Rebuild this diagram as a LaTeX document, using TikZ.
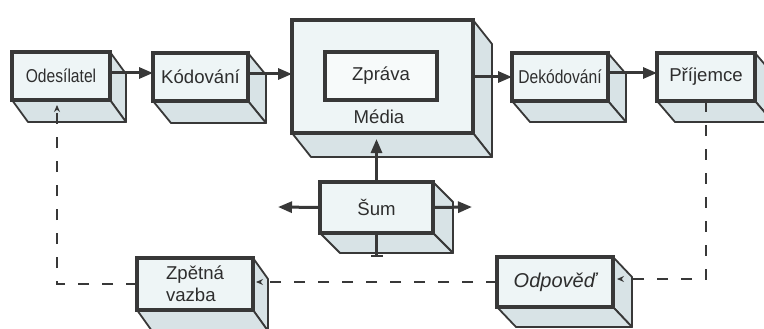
\documentclass[tikz,border=0pt]{standalone}
\usepackage{fontspec}
\setmainfont{Liberation Sans}
\newfontfamily\narrowfont{Liberation Sans}[FakeStretch=0.84]
\usetikzlibrary{arrows.meta,backgrounds,calc}
\definecolor{frontc}{HTML}{EEF5F6}
\definecolor{innerc}{HTML}{F7FAFA}
\definecolor{sidec}{HTML}{D8E3E6}
\definecolor{edgec}{HTML}{383838}
\definecolor{txtc}{HTML}{2E2E2E}
\tikzset{
  frontbox/.style={draw=edgec, fill=frontc, line width=3.5pt, inner sep=0pt, outer sep=0pt,
    text=txtc, font=\fontsize{18.6}{22}\selectfont, align=center},
  sideface/.style={fill=sidec, draw=edgec, line width=1.8pt, line join=round},
  flow/.style={draw=edgec, line width=3pt, -{Triangle[length=14pt,width=11pt]}},
  fb/.style={draw=edgec, line width=2pt, dash pattern=on 11pt off 13pt,
    -{Stealth[length=7pt,width=6pt]}},
  lbl/.style={text=txtc, font=\fontsize{18.6}{22}\selectfont, inner sep=0pt},
}
\newcommand\depthbox[3]{%
  \begin{scope}[on background layer]
    \path[sideface] (#1.north east) -- ++(#2,#3) -- ($(#1.south east)+(#2,#3)$) -- (#1.south east) -- cycle;
    \path[sideface] (#1.south west) -- ($(#1.south west)+(#2,#3)$) -- ($(#1.south east)+(#2,#3)$) -- (#1.south east) -- cycle;
  \end{scope}}
\begin{document}
\begin{tikzpicture}[x=1pt,y=-1pt]
\useasboundingbox (0,0) rectangle (764,329);
% top row
\node[frontbox, minimum width=98pt, minimum height=48pt] (Odes) at (61,76) {\narrowfont Odesílatel};
\node[frontbox, minimum width=95pt, minimum height=48pt] (Kod) at (200.5,77) {Kódování};
\node[frontbox, minimum width=181pt, minimum height=113pt] (Media) at (382.5,76.5) {};
\node[frontbox, fill=innerc, minimum width=112pt, minimum height=48pt] (Zprava) at (381,76) {Zpráva};
\node[lbl] (MediaL) at (379,117) {Média};
\node[frontbox, minimum width=96pt, minimum height=48pt] (Dekod) at (560,77) {\narrowfont Dekódování};
\node[frontbox, minimum width=98pt, minimum height=48pt] (Prij) at (706,77) {Příjemce};
% middle
\node[frontbox, minimum width=113pt, minimum height=51pt] (Sum) at (376.5,207.5) {Šum};
% bottom
\node[frontbox, minimum width=116pt, minimum height=52pt, align=left] (Zpet) at (195,284) {Zpětná\\vazba};
\node[frontbox, minimum width=116pt, minimum height=50pt, font=\fontsize{20}{24}\selectfont\itshape] (Odpo) at (555,282) {Odpověď};
\depthbox{Odes}{16}{22}
\depthbox{Kod}{18}{22}
\depthbox{Media}{19}{24}
\depthbox{Dekod}{18}{21}
\depthbox{Prij}{18}{21}
\depthbox{Sum}{20}{20}
\depthbox{Zpet}{15}{21}
\depthbox{Odpo}{19}{20}
% coordinates
\coordinate (sumtip) at (376.5,139);
\coordinate (sumgnd) at (376.5,257);
\coordinate (sumL) at (278,207);
\coordinate (sumR) at (472,207);
\coordinate (odtip) at (57,105);
\coordinate (zptip) at (256,282);
\coordinate (optip) at (617,279);
% flows
\draw[flow] ([yshift=3pt]Odes.east) -- ([yshift=3pt]Odes.east -| Kod.west);
\draw[flow] ([yshift=3pt]Kod.east) -- ([yshift=3pt]Kod.east -| Media.west);
\draw[flow] (Media.east |- Dekod.west) -- (Dekod.west);
\draw[flow] ([yshift=4pt]Dekod.east) -- ([yshift=4pt]Dekod.east -| Prij.west);
\draw[flow] (Sum.north) -- (sumtip);
\draw[flow] (Sum.west) -- (sumL);
\draw[flow] (Sum.east) -- (sumR);
\draw[draw=edgec, line width=3pt, -{Bar[width=12pt,line width=2.5pt]}] (Sum.south) -- (sumgnd);
% feedback
\draw[fb] (Prij.south) |- (optip);
\draw[fb] (Odpo.west) -- (zptip);
\draw[fb] (Zpet.west) -| (odtip);
\end{tikzpicture}
\end{document}
